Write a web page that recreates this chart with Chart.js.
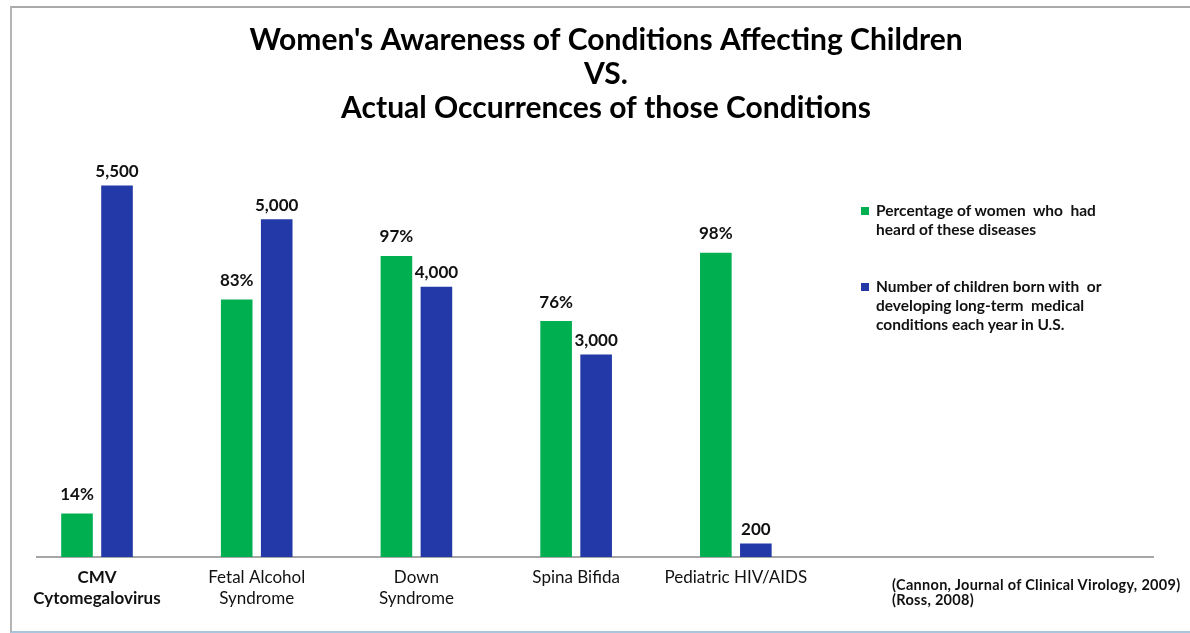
<!DOCTYPE html>
<html>
<head>
<meta charset="utf-8">
<script src="https://cdn.jsdelivr.net/npm/chart.js@4.4.1/dist/chart.umd.min.js"></script>
<style>
  html, body { margin: 0; padding: 0; background: #fff; }
  #wrap { position: relative; width: 1190px; height: 633px; overflow: hidden; font-family: Lato, "Noto Sans", sans-serif; color: #111; }
  #frame { position: absolute; left: 10px; top: 6px; width: 1180px; height: 623px; border-top: 2px solid #a9a9a9; border-left: 2px solid #b4b4b4; border-bottom: 2px solid #a9c6de; box-sizing: content-box; }
  canvas { position: absolute; left: 0; top: 0; }
  .legend { position: absolute; left: 861px; font-weight: bold; font-size: 15.5px; line-height: 19px; }
  .legend .sw { position: absolute; left: 0; width: 8px; height: 8px; }
  .legend .tx { position: absolute; left: 15px; white-space: nowrap; }
  #cite { position: absolute; left: 892px; top: 577px; font-weight: bold; font-size: 14.5px; letter-spacing: 0.3px; line-height: 15px; white-space: nowrap; }
</style>
</head>
<body>
<div id="wrap">
  <div id="frame"></div>
  <canvas id="c" width="1190" height="633"></canvas>
  <div class="legend" style="top:201px;">
    <div class="sw" style="top:6px;background:#00AF50;"></div>
    <div class="tx">Percentage of women &nbsp;who &nbsp;had<br>heard of these diseases</div>
  </div>
  <div class="legend" style="top:277px;">
    <div class="sw" style="top:6px;background:#2339A8;"></div>
    <div class="tx">Number of children born with &nbsp;or<br>developing long-term &nbsp;medical<br>conditions each year in U.S.</div>
  </div>
  <div id="cite">(Cannon, Journal of Clinical Virology, 2009)<br>(Ross, 2008)</div>
</div>
<script>
// ---- data ----
const categories = [
  ["CMV", "Cytomegalovirus"],
  ["Fetal Alcohol", "Syndrome"],
  ["Down", "Syndrome"],
  ["Spina Bifida"],
  ["Pediatric HIV/AIDS"]
];
const awarenessPct = [14, 83, 97, 76, 98];
const childrenCount = [5500, 5000, 4000, 3000, 200];
const titleLines = [
  "Women's Awareness of Conditions Affecting Children",
  "VS.",
  "Actual Occurrences of those Conditions"
];
const seriesNames = [
  "Percentage of women who had heard of these diseases",
  "Number of children born with or developing long-term medical conditions each year in U.S."
];

const GREEN = '#00AF50';
const BLUE = '#2339A8';

const valueLabels = {
  id: 'valueLabels',
  afterDatasetsDraw(chart) {
    const ctx = chart.ctx;
    ctx.save();
    ctx.font = 'bold 17px Lato, "Noto Sans", sans-serif';
    ctx.fillStyle = '#111';
    ctx.textAlign = 'center';
    ctx.textBaseline = 'middle';
    chart.data.datasets.forEach((ds, di) => {
      const meta = chart.getDatasetMeta(di);
      meta.data.forEach((bar, j) => {
        const v = ds.data[j].y;
        const txt = di === 0 ? v + '%' : v.toLocaleString('en-US');
        const off = di === 0 ? 19 : 14;
        ctx.fillText(txt, bar.x, bar.y - off);
      });
    });
    ctx.restore();
  }
};

Chart.defaults.font.family = 'Lato, "Noto Sans", sans-serif';
Chart.defaults.color = '#111';

new Chart(document.getElementById('c'), {
  type: 'bar',
  data: {
    datasets: [
      {
        label: seriesNames[0],
        data: awarenessPct.map((v, i) => ({ x: i, y: v })),
        backgroundColor: GREEN,
        yAxisID: 'y',
        categoryPercentage: 0.501,
        barPercentage: 0.79
      },
      {
        label: seriesNames[1],
        data: childrenCount.map((v, i) => ({ x: i, y: v })),
        backgroundColor: BLUE,
        yAxisID: 'y2',
        categoryPercentage: 0.501,
        barPercentage: 0.79
      }
    ]
  },
  options: {
    responsive: false,
    animation: false,
    devicePixelRatio: 1,
    layout: { padding: { left: 37, right: 15, top: 0, bottom: 0 } },
    plugins: {
      legend: { display: false },
      tooltip: { enabled: false },
      title: {
        display: true,
        text: titleLines,
        color: '#000',
        font: { size: 30, weight: 'bold', lineHeight: 34 / 30 },
        padding: { top: 23, bottom: 25.4 }
      }
    },
    scales: {
      x: {
        type: 'linear',
        min: -0.3757,
        max: 6.612,
        offset: false,
        grid: { display: false, drawTicks: false },
        border: { display: true, color: '#a6a6a6', width: 2 },
        afterBuildTicks: (scale) => { scale.ticks = categories.map((_, i) => ({ value: i })); },
        afterFit: (scale) => { scale.height = 76; },
        ticks: {
          autoSkip: false,
          maxRotation: 0,
          padding: 10,
          color: '#111',
          font: (c) => ({ size: 17, weight: c.index === 0 ? 'bold' : 'normal', lineHeight: 21 / 17 }),
          callback: (value) => categories[value] || ''
        }
      },
      y: {
        display: false,
        position: 'left',
        min: 0,
        max: 131
      },
      y2: {
        display: true,
        position: 'right',
        min: 0,
        max: 6020,
        grid: { display: false, drawTicks: false },
        border: { display: false },
        ticks: { display: false },
        afterFit: (scale) => { scale.width = 22; }
      }
    }
  },
  plugins: [valueLabels]
});
</script>
</body>
</html>
